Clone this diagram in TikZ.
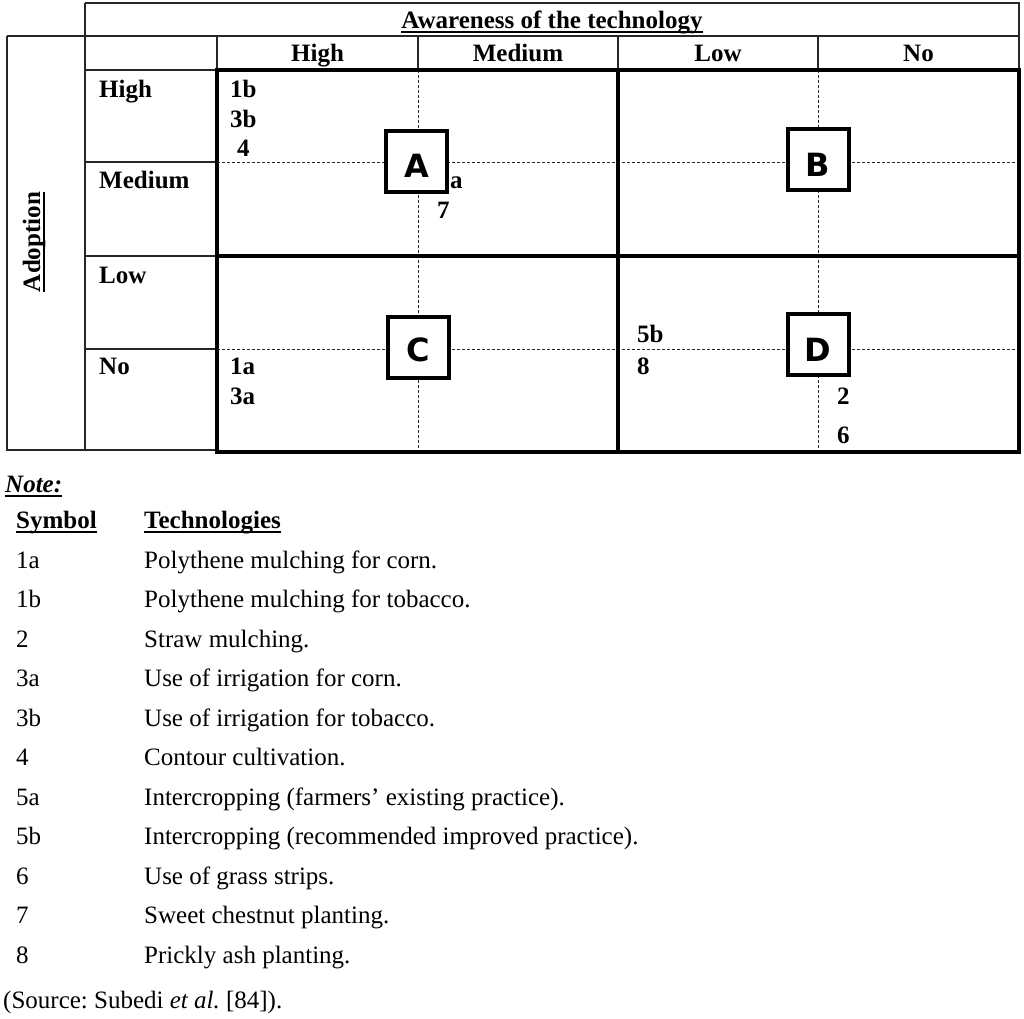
\documentclass[tikz,border=0pt]{standalone}
\usepackage{fontspec}
\setmainfont{Liberation Serif}
\newfontfamily\heavyfont{DejaVu Sans}
\frenchspacing
\begin{document}
\begin{tikzpicture}[x=1pt,y=-1pt,
  thinln/.style={line width=1.3pt,black!85},
  thickln/.style={line width=4pt,black,line cap=rect},
  dashln/.style={line width=1pt,black!85,dash pattern=on 3pt off 2pt},
  hd/.style={font=\fontsize{25}{30}\selectfont\bfseries,inner sep=0pt,anchor=base},
  lb/.style={font=\fontsize{25}{30}\selectfont\bfseries,inner sep=0pt,anchor=base west},
  lg/.style={font=\fontsize{25}{30}\selectfont,inner sep=0pt,anchor=base west},
  ul/.style={line width=1.8pt,black},
  quad/.style={draw,line width=4pt,fill=white,minimum size=61pt,inner sep=0pt},
  quadlet/.style={inner sep=0pt,font=\fontsize{32}{36}\heavyfont\bfseries}]
\useasboundingbox (0,0) rectangle (1024,1018);
% thin frame
\draw[thinln] (85,3) -- (1019,3) -- (1019,70);
\draw[thinln] (7,36) -- (1019,36);
\draw[thinln] (7,36) -- (7,450) -- (217,450);
\draw[thinln] (85,3) -- (85,450);
\draw[thinln] (85,70) -- (217,70);
\foreach \x in {217,418,618,818} \draw[thinln] (\x,36) -- (\x,70);
\foreach \y in {162,256,349} \draw[thinln] (85,\y) -- (217,\y);
% dashed grid
\draw[dashln] (217,162) -- (1019,162);
\draw[dashln] (217,349) -- (1019,349);
\draw[dashln] (418,70) -- (418,452);
\draw[dashln] (818,70) -- (818,452);
% thick
\draw[thickln] (217,70) rectangle (1019,452);
\draw[thickln] (217,256) -- (1019,256);
\draw[thickln] (618,70) -- (618,452);
% quadrant boxes
\node[quad] (qA) at (416.5,161) {};
\node[quad] (qB) at (818,159.5) {};
\node[quad] (qC) at (418,347) {};
\node[quad] (qD) at (818,344.5) {};
\node[quadlet] (lA) at ([yshift=-5pt]qA.center) {A};
\node[quadlet] (lB) at ([yshift=-5pt]qB.center) {B};
\node[quadlet] (lC) at ([yshift=-3pt]qC.center) {C};
\node[quadlet] (lD) at ([yshift=-5pt]qD.center) {D};
% headers
\node[hd] (aw) at (552,28) {Awareness of the technology};
\draw[ul] ([yshift=-4pt]aw.base west) -- ([yshift=-4pt]aw.base east);
\node[hd] (cH) at (317.5,61) {High};
\node[hd] (cM) at (518,61) {Medium};
\node[hd] (cL) at (718,61) {Low};
\node[hd] (cN) at (918.5,61) {No};
\node[hd,rotate=90] (ad) at (40,242) {Adoption};
\draw[ul] ([xshift=4pt]ad.base west) -- ([xshift=4pt]ad.base east);
\node[lb] (rH) at (99,97) {High};
\node[lb] (rM) at (99,188) {Medium};
\node[lb] (rL) at (99,283) {Low};
\node[lb] (rN) at (99,374) {No};
% cell entries
\node[lb] (e1b) at (230,97) {1b};
\node[lb] (e3b) at (230,127) {3b};
\node[lb] (e4) at (237,156) {4};
\node[lb] (ea) at (450,188) {a};
\node[lb] (e7) at (437,218) {7};
\node[lb] (e1a) at (230,374) {1a};
\node[lb] (e3a) at (230,404) {3a};
\node[lb] (e5b) at (637,342) {5b};
\node[lb] (e8) at (637,374) {8};
\node[lb] (e2) at (837,404) {2};
\node[lb] (e6) at (837,443) {6};
% legend
\node[lb] (note) at (5,492) {\itshape Note:};
\draw[ul] ([yshift=-4pt]note.base west) -- ([yshift=-4pt]note.base east);
\node[lb] (sym) at (16,528) {Symbol};
\draw[ul] ([yshift=-4pt]sym.base west) -- ([yshift=-4pt]sym.base east);
\node[lb] (tech) at (144,528) {Technologies};
\draw[ul] ([yshift=-4pt]tech.base west) -- ([yshift=-4pt]tech.base east);
\foreach \s/\t [count=\i from 0] in {1a/Polythene mulching for corn.,
  1b/Polythene mulching for tobacco.,
  2/Straw mulching.,
  3a/Use of irrigation for corn.,
  3b/Use of irrigation for tobacco.,
  4/Contour cultivation.,
  5a/Intercropping (farmers’ existing practice).,
  5b/Intercropping (recommended improved practice).,
  6/Use of grass strips.,
  7/Sweet chestnut planting.,
  8/Prickly ash planting.}{
  \node[lg] (s\i) at (16,568+39.5*\i) {\s};
  \node[lg] (t\i) at (144,568+39.5*\i) {\t};
}
\node[lg] (src) at (3,1008) {(Source: Subedi \textit{et al.} [84]).};
\end{tikzpicture}
\end{document}
